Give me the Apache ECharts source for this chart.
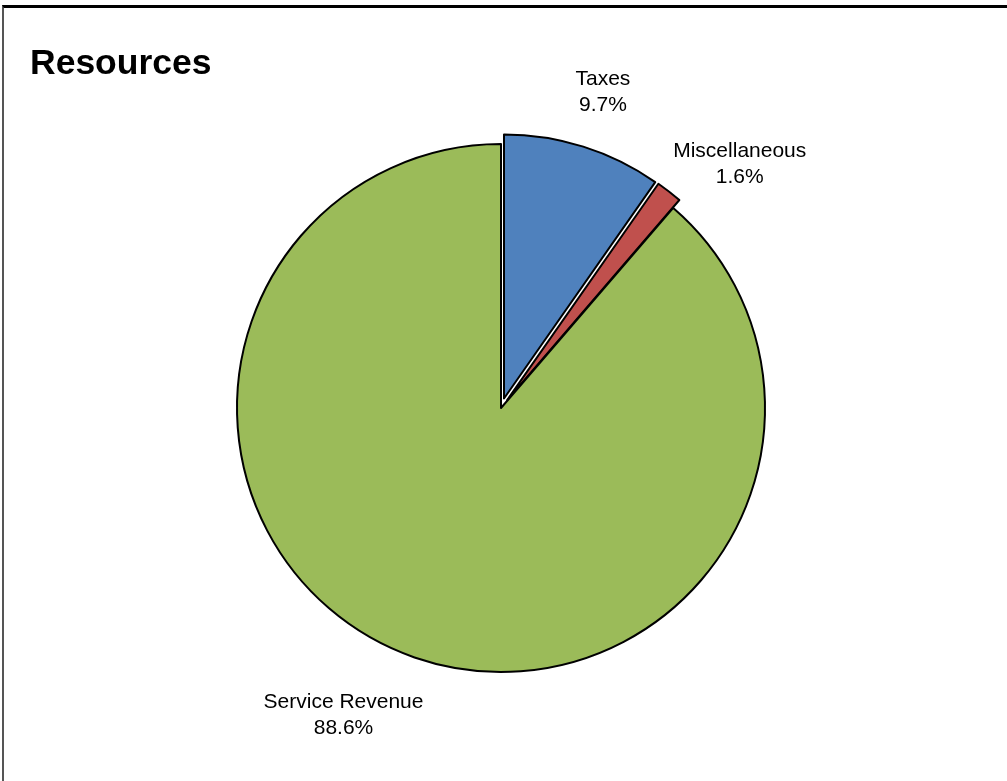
<!DOCTYPE html>
<html>
<head>
<meta charset="utf-8">
<title>Resources</title>
<script src="https://cdn.jsdelivr.net/npm/echarts@6/dist/echarts.min.js"></script>
<style>
  html, body { margin: 0; padding: 0; background: #fff; }
  #frame {
    position: absolute; left: 2px; top: 5px; width: 1100px; height: 900px;
    border-left: 2px solid #555; border-top: 3px solid #000; box-sizing: border-box;
  }
  #chart { position: absolute; left: 0; top: 0; width: 1007px; height: 781px; }
</style>
</head>
<body>
<div id="frame"></div>
<div id="chart"></div>
<script>
// Revenue sources, share of total in percent
const categories = ['Taxes', 'Miscellaneous', 'Service Revenue'];
const shares = [9.7, 1.6, 88.6];
const exploded = [true, true, false];
const colors = ['#4F81BD', '#C0504D', '#9BBB59'];

// Label placement around the pie: angle (degrees clockwise from top) and distance from centre
const labelAngleShift = [0.4, 6.6, 6.8];
const labelDistance = [332, 341, 345];

const CX = 501, CY = 408, R = 264;

const total = shares.reduce((a, b) => a + b, 0);
const midAngles = [];
let acc = 0;
shares.forEach(v => {
  const span = v / total * 360;
  midAngles.push(acc + span / 2);
  acc += span;
});

const labelFont = {
  fontFamily: 'Liberation Sans, Arial, sans-serif',
  fontSize: 21,
  lineHeight: 26,
  color: '#000'
};

const chart = echarts.init(document.getElementById('chart'), null, { renderer: 'canvas' });

chart.setOption({
  animation: false,
  backgroundColor: 'transparent',
  title: {
    text: 'Resources',
    left: 25,
    top: 41,
    textStyle: {
      fontFamily: 'Liberation Sans, Arial, sans-serif',
      fontSize: 35.5,
      fontWeight: 'bold',
      color: '#000'
    }
  },
  series: [
    {
      // the slices, with the smaller shares pulled out
      type: 'pie',
      center: [CX, CY],
      radius: [0, R],
      startAngle: 90,
      clockwise: true,
      selectedMode: 'multiple',
      selectedOffset: 10,
      emphasis: { disabled: true },
      itemStyle: { borderColor: '#000', borderWidth: 2 },
      label: { show: false },
      labelLine: { show: false },
      data: categories.map((name, i) => ({
        name: name,
        value: shares[i],
        selected: exploded[i],
        itemStyle: { color: colors[i] }
      }))
    },
    {
      // category / percentage labels around the pie
      type: 'pie',
      center: [CX, CY],
      radius: [0, R],
      startAngle: 90,
      clockwise: true,
      silent: true,
      z: 3,
      avoidLabelOverlap: false,
      itemStyle: { color: 'rgba(0,0,0,0)', borderWidth: 0 },
      label: Object.assign({
        show: true,
        position: 'outside',
        align: 'center',
        formatter: p => p.name + '\n' + p.value.toFixed(1) + '%'
      }, labelFont),
      labelLine: { show: false },
      labelLayout: p => {
        const i = p.dataIndex;
        const a = (midAngles[i] + labelAngleShift[i]) * Math.PI / 180;
        const d = labelDistance[i];
        return {
          x: CX + d * Math.sin(a),
          y: CY - d * Math.cos(a),
          align: 'center',
          verticalAlign: 'middle'
        };
      },
      data: categories.map((name, i) => ({ name: name, value: shares[i] }))
    }
  ]
});
</script>
</body>
</html>
